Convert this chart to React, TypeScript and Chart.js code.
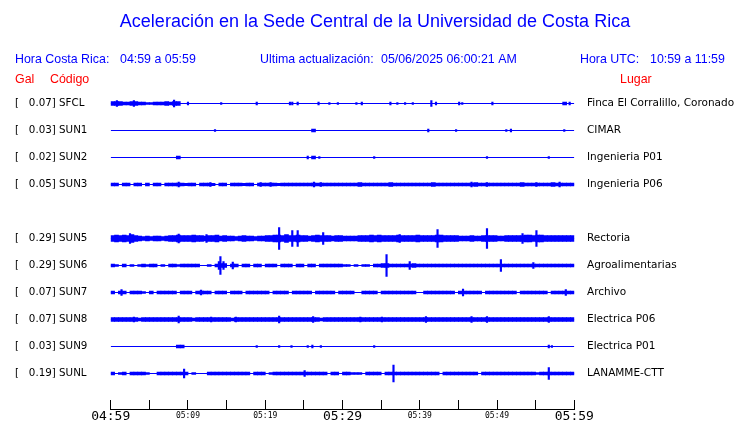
import { useEffect, useRef } from 'react';
import { Chart, registerables } from 'chart.js';

Chart.register(...registerables);

// ---------- data ----------
const TITLE = 'Aceleración en la Sede Central de la Universidad de Costa Rica';
const CODES = ['SFCL', 'SUN1', 'SUN2', 'SUN3', 'SUN5', 'SUN6', 'SUN7', 'SUN8', 'SUN9', 'SUNL'];
const ROWS = [0, 1, 2, 3, 5, 6, 7, 8, 9, 10];
const GAL = ['0.07', '0.03', '0.02', '0.05', '0.29', '0.29', '0.07', '0.07', '0.03', '0.19'];
const PLACES = [
  'Finca El Corralillo, Coronado', 'CIMAR', 'Ingenieria P01', 'Ingenieria P06', 'Rectoria',
  'Agroalimentarias', 'Archivo', 'Electrica P06', 'Electrica P01', 'LANAMME-CTT',
];
const TICK_MINUTES = [0, 5, 10, 15, 20, 25, 30, 35, 40, 45, 50, 55, 60];
const TICK_LABELS = ['04:59', '', '05:09', '', '05:19', '', '05:29', '', '05:39', '', '05:49', '', '05:59'];
const BIN_MINUTES = 0.5;

// envelope half-amplitudes (reference px) per 30 s bin
const ENV_SFCL = [
  2, 2, 2, 1.5, 1.5, 2, 2, 1.5, 1.5, 1, 1, 1.5, 1.5, 1.5, 2, 1.5, 2, 2, 0, 0,
  0, 0, 0, 0, 0, 0, 0, 0, 0, 0, 0, 0, 0, 0, 0, 0, 0, 0, 0, 0,
  0, 0, 0, 0, 0, 0, 0, 0, 0, 0, 0, 0, 0, 0, 0, 0, 0, 0, 0, 0,
  0, 0, 0, 0, 0, 0, 0, 0, 0, 0, 0, 0, 0, 0, 0, 0, 0, 0, 0, 0,
  0, 0, 0, 0, 0, 0, 0, 0, 0, 0, 0, 0, 0, 0, 0, 0, 0, 0, 0, 0,
  0, 0, 0, 0, 0, 0, 0, 0, 0, 0, 0, 0, 0, 0, 0, 0, 0, 1.5, 0, 0,
];
const ENV_SUN1 = [
  0, 0, 0, 0, 0, 0, 0, 0, 0, 0, 0, 0, 0, 0, 0, 0, 0, 0, 0, 0,
  0, 0, 0, 0, 0, 0, 0, 0, 0, 0, 0, 0, 0, 0, 0, 0, 0, 0, 0, 0,
  0, 0, 0, 0, 0, 0, 0, 0, 0, 0, 0, 0, 1.5, 0, 0, 0, 0, 0, 0, 0,
  0, 0, 0, 0, 0, 0, 0, 0, 0, 0, 0, 0, 0, 0, 0, 0, 0, 0, 0, 0,
  0, 0, 0, 0, 0, 0, 0, 0, 0, 0, 0, 0, 0, 0, 0, 0, 0, 0, 0, 0,
  0, 0, 0, 0, 0, 0, 0, 0, 0, 0, 0, 0, 0, 0, 0, 0, 0, 0, 0, 0,
];
const ENV_SUN2 = [
  0, 0, 0, 0, 0, 0, 0, 0, 0, 0, 0, 0, 0, 0, 0, 0, 0, 1.5, 0, 0,
  0, 0, 0, 0, 0, 0, 0, 0, 0, 0, 0, 0, 0, 0, 0, 0, 0, 0, 0, 0,
  0, 0, 0, 0, 0, 0, 0, 0, 0, 0, 0, 0, 1.5, 0, 0, 0, 0, 0, 0, 0,
  0, 0, 0, 0, 0, 0, 0, 0, 0, 0, 0, 0, 0, 0, 0, 0, 0, 0, 0, 0,
  0, 0, 0, 0, 0, 0, 0, 0, 0, 0, 0, 0, 0, 0, 0, 0, 0, 0, 0, 0,
  0, 0, 0, 0, 0, 0, 0, 0, 0, 0, 0, 0, 0, 0, 0, 0, 0, 0, 0, 0,
];
const ENV_SUN3 = [
  1.5, 1.5, 0, 1.5, 1.5, 0, 1.5, 1.5, 0, 1.5, 0, 1.5, 1.5, 0, 1.5, 1.5, 1.5, 1.5, 1.5, 1.2,
  1.5, 1.5, 0, 1.5, 1.5, 1.5, 1.2, 0, 1.5, 1.5, 0, 1.5, 1.5, 1.5, 1.2, 1.5, 1.5, 0, 1.5, 1.5,
  1.5, 1.5, 1.5, 1.2, 1.5, 1.5, 1.5, 1.5, 1.5, 1.5, 1.5, 1.5, 1.5, 1.5, 1.5, 1.5, 1.5, 1.5, 1.5, 1.5,
  1.5, 1.5, 1.5, 1.5, 1.8, 1.5, 1.5, 1.5, 1.5, 1.5, 1.5, 1.5, 1.8, 1.5, 1.5, 1.5, 1.5, 1.5, 1.5, 1.5,
  1.5, 1.5, 1.5, 1.8, 1.5, 1.5, 1.5, 1.5, 1.5, 1.5, 1.5, 1.5, 1.5, 1.5, 1.8, 1.5, 1.5, 1.5, 1.5, 1.5,
  1.5, 1.5, 1.5, 1.5, 1.5, 1.5, 1.8, 1.5, 1.5, 1.5, 1.5, 1.5, 1.5, 1.5, 1.8, 1.5, 1.5, 1.5, 1.5, 1.5,
];
const ENV_SUN5 = [
  3, 3.5, 3, 3.5, 3, 4, 3, 2.5, 2, 2.5, 2, 2.5, 2.5, 2, 2.5, 3, 3, 3.5, 3, 3,
  3, 3.5, 3, 3, 2.5, 3, 3, 3.5, 2.5, 3, 2.5, 2.5, 2, 2.5, 3, 2.5, 2.5, 2, 2.5, 2.5,
  3, 3, 3.5, 3.5, 3, 4, 3, 3, 3.5, 3, 3, 2.5, 3, 3.5, 3, 3, 3, 2.5, 3, 3,
  2.5, 2.5, 2.5, 2.5, 3, 3, 3, 3.5, 3, 3.5, 3, 3, 3, 3, 3.5, 3, 3, 3, 3, 3.5,
  3, 3, 3, 3, 3.5, 3.5, 3, 3, 3, 3, 2.5, 2.5, 2.5, 3, 2.5, 2.5, 3, 3, 3, 3,
  2.5, 2.5, 3, 3, 3, 3, 3, 3.5, 3.5, 3, 3.5, 3.5, 3, 3, 3, 3, 3, 3, 3, 3,
];
const ENV_SUN6 = [
  1.5, 1, 0, 1.5, 0, 1, 0, 1, 1.5, 1, 1.5, 1.5, 0, 1, 0, 1.5, 1.5, 1, 1.5, 1.5,
  1.5, 1.5, 1.5, 0, 0, 1, 0, 1.5, 2, 2, 0, 1.5, 1.5, 0, 1.5, 1.5, 0, 1.5, 1.5, 0,
  1.5, 1.5, 1.5, 0, 1.5, 1.5, 1.5, 0, 1.5, 1.5, 0, 1.5, 1.5, 0, 1.5, 1.5, 1.5, 1.5, 1.5, 1.5,
  1, 1, 0, 1, 0, 1, 1, 0, 1.5, 1.5, 2, 2, 1.5, 1.5, 1.5, 1.5, 1.5, 1.5, 2, 1.5,
  1.5, 1.5, 1.5, 1.5, 1.5, 1.5, 1.5, 1.5, 1.5, 1.5, 1.5, 1.5, 1.5, 1.5, 1.5, 1.5, 1.5, 1.5, 1.5, 1.5,
  1.5, 1.5, 1.5, 1.5, 1.5, 1.5, 1.5, 1.5, 1.5, 1.5, 1.5, 1.5, 1.5, 1.5, 1.5, 1.5, 1.5, 1.5, 1.5, 1.5,
];
const ENV_SUN7 = [
  1.5, 0, 1.5, 1.5, 0, 1.5, 1.5, 1.5, 1, 0, 1.5, 0, 1.5, 1.5, 1.5, 1.5, 1.5, 0, 1.5, 1.5,
  1.5, 0, 1.5, 1.5, 1.5, 1.5, 0, 1.5, 1.5, 1.5, 0, 1.5, 1.5, 1.5, 0, 1.5, 1.5, 1.5, 1.5, 1.5,
  1.5, 0, 1.5, 1.5, 1.5, 1.5, 0, 1.5, 1.5, 1.5, 1.5, 1.5, 0, 1.5, 1.5, 1.5, 1.5, 1.5, 0, 1.5,
  1.5, 1.5, 1.5, 0, 0, 1.5, 1.5, 1.5, 1.5, 0, 1.5, 1.5, 1.5, 1.5, 1.5, 1.5, 1.5, 1.5, 1.5, 0,
  0, 1.5, 1.5, 1.5, 1.5, 1.5, 1.5, 1.5, 1.5, 0, 1.5, 1.5, 1.5, 1.5, 1.5, 1.5, 0, 1.5, 1.5, 1.5,
  1.5, 1.5, 1.5, 1.5, 1.5, 0, 1.5, 1.5, 1.5, 1.5, 1.5, 1.5, 1.5, 0, 1.5, 1.5, 1.5, 1.5, 1.5, 1.5,
];
const ENV_SUN8 = [
  1.8, 2, 1.8, 1.8, 2, 1.8, 1.8, 1.5, 1.8, 1.8, 2, 1.8, 1.8, 1.8, 1.8, 1.8, 1.8, 2, 1.8, 1.8,
  1.8, 1.5, 1.8, 1.8, 1.8, 1.8, 1.8, 1.8, 1.8, 1.8, 1.8, 1.5, 1.8, 1.8, 1.8, 1.8, 1.8, 1.8, 1.8, 1.8,
  1.8, 1.8, 1.8, 2, 1.8, 1.8, 1.8, 1.8, 1.8, 1.8, 1.8, 1.8, 1.8, 1.8, 1.5, 1.8, 1.8, 1.8, 1.8, 1.8,
  1.8, 1.8, 1.8, 1.8, 1.8, 1.8, 1.8, 1.8, 1.8, 1.8, 1.8, 1.8, 1.8, 1.8, 1.8, 1.8, 1.8, 1.8, 1.8, 1.8,
  1.8, 1.8, 1.8, 1.8, 1.8, 1.8, 1.8, 1.8, 1.8, 1.8, 1.8, 1.8, 1.8, 1.8, 1.8, 1.8, 1.8, 1.8, 1.8, 1.8,
  1.8, 1.8, 1.8, 1.8, 1.8, 1.8, 1.8, 1.8, 1.8, 1.8, 1.8, 1.8, 1.8, 1.8, 1.8, 1.8, 1.8, 1.8, 1.8, 1.8,
];
const ENV_SUN9 = [
  0, 0, 0, 0, 0, 0, 0, 0, 0, 0, 0, 0, 0, 0, 0, 0, 0, 1.5, 1.5, 0,
  0, 0, 0, 0, 0, 0, 0, 0, 0, 0, 0, 0, 0, 0, 0, 0, 0, 0, 0, 0,
  0, 0, 0, 0, 0, 0, 0, 0, 0, 0, 0, 0, 0, 0, 0, 0, 0, 0, 0, 0,
  0, 0, 0, 0, 0, 0, 0, 0, 0, 0, 0, 0, 0, 0, 0, 0, 0, 0, 0, 0,
  0, 0, 0, 0, 0, 0, 0, 0, 0, 0, 0, 0, 0, 0, 0, 0, 0, 0, 0, 0,
  0, 0, 0, 0, 0, 0, 0, 0, 0, 0, 0, 0, 0, 0, 0, 0, 0, 0, 0, 0,
];
const ENV_SUNL = [
  1.5, 0, 1, 1.5, 0, 1.5, 1.5, 1.5, 1.5, 1, 0, 0, 1.5, 1.5, 1.5, 1.5, 1.5, 1.5, 1.5, 1.5,
  0, 1, 0, 0, 0, 1.5, 1.5, 1.5, 1.5, 1.5, 1.5, 1.5, 1.5, 1.5, 1.5, 1.5, 0, 1.5, 1.5, 1.5,
  0, 1, 1.5, 1.5, 1.5, 1.5, 1.5, 1.5, 1.5, 1.5, 1.5, 1.5, 1.5, 1.5, 1.5, 1.5, 0, 1.5, 1.5, 0,
  1.5, 1.5, 1, 1, 1, 0, 1.5, 1.5, 1.5, 1.5, 0, 1.5, 1.5, 1.5, 1.5, 1.5, 1.5, 1.5, 1.5, 1.5,
  1.5, 1.5, 1.5, 1.5, 1.5, 0, 1.5, 1.5, 1.5, 1.5, 1.5, 1.5, 1.5, 1.5, 1.5, 0, 1.5, 1.5, 1.5, 1.5,
  1.5, 1.5, 1.5, 1.5, 1.5, 1.5, 1.5, 1.5, 1.5, 1.5, 1, 1.5, 1.5, 1.5, 1.5, 1.5, 1.5, 1.5, 1.5, 1.5,
];
const ENVELOPES = [ENV_SFCL, ENV_SUN1, ENV_SUN2, ENV_SUN3, ENV_SUN5, ENV_SUN6, ENV_SUN7, ENV_SUN8, ENV_SUN9, ENV_SUNL];

// isolated spikes: [minute, half-amplitude]
const SPK_SFCL = [[0.8, 3], [3.0, 3], [8.2, 3.5], [10, 1.5], [14.3, 1], [18.9, 1.5], [23.2, 1.5], [23.5, 1.5], [24.2, 1.5], [26.9, 1.5], [28.3, 1], [29.4, 1], [31.8, 1], [32.5, 1.5], [36.2, 1.5], [37.1, 1], [38.1, 1], [39.1, 1], [41.5, 3], [42.1, 1.5], [45.1, 1.5], [45.5, 1], [49.4, 1.5], [59.4, 1.5]];
const SPK_SUN1 = [[13.5, 1], [41.1, 1.5], [44.7, 1], [51.2, 1], [51.8, 1.5], [58.7, 1]];
const SPK_SUN2 = [[25.5, 1.5], [27, 1], [34.1, 1], [48.7, 1], [56.7, 1]];
const SPK_SUN3 = [[8.8, 2.5], [12.9, 2], [19.4, 2], [20.7, 2], [26.3, 2.5], [27.2, 2], [46.7, 2.5], [48.7, 2], [55.1, 2], [58.1, 2.5]];
const SPK_SUN5 = [[2.5, 5], [8.8, 4.5], [12.4, 4], [21.8, 11], [23.5, 8], [24.2, 8], [27.5, 6], [37.4, 4], [42.3, 9], [48.7, 10], [53.3, 5], [55.1, 8]];
const SPK_SUN6 = [[14.0, 4], [14.2, 9], [14.6, 4], [15.8, 3.5], [35.7, 11], [38.7, 4], [50.5, 6], [54.7, 3]];
const SPK_SUN7 = [[1.4, 3], [11.7, 2.5], [45.6, 3.5], [58.9, 3]];
const SPK_SUN8 = [[3, 2.5], [8.8, 3.5], [13, 2.5], [16.2, 2.5], [21.8, 3.5], [26.2, 3], [32.3, 2.5], [35.1, 2.5], [40.8, 3], [46.7, 3], [48.7, 3], [56.7, 3]];
const SPK_SUN9 = [[18.9, 1], [21.8, 1], [23.4, 1], [25.5, 1], [26.1, 1.5], [27.2, 1], [34.1, 1], [56.7, 1.5], [57.1, 1]];
const SPK_SUNL = [[9.5, 4.5], [25.1, 3], [36.6, 8.5], [56.7, 6]];
const SPIKES = [SPK_SFCL, SPK_SUN1, SPK_SUN2, SPK_SUN3, SPK_SUN5, SPK_SUN6, SPK_SUN7, SPK_SUN8, SPK_SUN9, SPK_SUNL];

// ---------- layout ----------
const W = 740;
const H = 423;
const PX_PER_ROW = 27;
const AREA_TOP = 89;
const AREA_BOTTOM = 409;
const AREA_LEFT = 110.7;
const AREA_RIGHT = 574.3;
const FIRST_ROW_PX = 103.5;
const Y_MIN = -(FIRST_ROW_PX - AREA_TOP) / PX_PER_ROW;
const Y_MAX = Y_MIN + (AREA_BOTTOM - AREA_TOP) / PX_PER_ROW;
const BLUE = '#0000ff';

const headerPlugin = {
  id: 'header',
  afterDraw(chart: any) {
    const ctx = chart.ctx;
    ctx.save();
    ctx.textBaseline = 'middle';
    ctx.fillStyle = BLUE;
    ctx.font = '18px "Liberation Sans", Arial, sans-serif';
    ctx.textAlign = 'center';
    ctx.fillText(TITLE, 375, 22);
    ctx.textAlign = 'left';
    ctx.font = '12.4px "Liberation Sans", Arial, sans-serif';
    ctx.fillText('Hora Costa Rica:', 15, 60);
    ctx.fillText('04:59 a 05:59', 120, 60);
    ctx.fillText('Ultima actualización:', 260, 60);
    ctx.fillText('05/06/2025 06:00:21 AM', 381, 60);
    ctx.fillText('Hora UTC:', 580, 60);
    ctx.fillText('10:59 a 11:59', 650, 60);
    ctx.fillStyle = '#ff0000';
    ctx.fillText('Gal', 15, 80);
    ctx.fillText('Código', 50, 80);
    ctx.fillText('Lugar', 620, 80);
    ctx.restore();
  },
};

export default function App() {
  const ref = useRef<HTMLCanvasElement>(null);

  useEffect(() => {
    if (!ref.current) return;
    const datasets: any[] = [];
    CODES.forEach((code, s) => {
      const row = ROWS[s];
      datasets.push({
        type: 'line',
        label: code + ' base',
        data: [{ x: 0, y: row }, { x: 60, y: row }],
        borderColor: BLUE,
        borderWidth: 1,
        pointRadius: 0,
      });
      const env: any[] = [];
      ENVELOPES[s].forEach((a, k) => {
        if (a > 0) env.push({ x: (k + 0.5) * BIN_MINUTES, y: [row - a / PX_PER_ROW, row + a / PX_PER_ROW] });
      });
      datasets.push({
        type: 'bar',
        label: code + ' env',
        data: env,
        backgroundColor: BLUE,
        borderWidth: 0,
        grouped: false,
        barThickness: 4,
      });
      datasets.push({
        type: 'bar',
        label: code + ' spikes',
        data: SPIKES[s].map(([t, a]) => ({ x: t, y: [row - a / PX_PER_ROW, row + a / PX_PER_ROW] })),
        backgroundColor: BLUE,
        borderWidth: 0,
        grouped: false,
        barThickness: 1.5,
      });
    });

    const rowTicks = (scale: any) => {
      scale.ticks = ROWS.map((v) => ({ value: v }));
    };
    const labelFor = (value: number, right: boolean) => {
      const i = ROWS.indexOf(value);
      if (i < 0) return '';
      return right ? PLACES[i] : '[   ' + GAL[i] + '] ' + CODES[i];
    };

    const chart = new Chart(ref.current, {
      type: 'bar',
      data: { datasets },
      plugins: [headerPlugin],
      options: {
        animation: false,
        responsive: false,
        events: [],
        layout: { padding: { top: AREA_TOP, left: 15, right: 0, bottom: 0 } },
        plugins: { legend: { display: false }, tooltip: { enabled: false }, title: { display: false } },
        scales: {
          x: {
            type: 'linear',
            min: 0,
            max: 60,
            offset: false,
            afterBuildTicks: (s: any) => {
              s.ticks = TICK_MINUTES.map((v) => ({ value: v }));
            },
            afterFit: (s: any) => {
              s.height = H - AREA_BOTTOM;
              s.paddingLeft = 0;
              s.paddingRight = 0;
            },
            grid: { offset: false, drawOnChartArea: false, drawTicks: true, tickLength: -9, color: '#000', lineWidth: 1 },
            border: { display: true, color: '#000', width: 1 },
            ticks: {
              autoSkip: false,
              maxRotation: 0,
              minRotation: 0,
              padding: 9,
              color: '#000',
              font: (c: any) =>
                c.index % 6 === 0
                  ? { family: '"DejaVu Sans Mono", monospace', size: 13, lineHeight: 1.2 }
                  : { family: '"DejaVu Sans Mono", monospace', size: 8, lineHeight: 1.8 },
              callback: (_v: any, i: number) => TICK_LABELS[i],
            },
          },
          y: {
            type: 'linear',
            position: 'left',
            reverse: true,
            min: Y_MIN,
            max: Y_MAX,
            afterBuildTicks: rowTicks,
            afterFit: (s: any) => {
              s.width = AREA_LEFT - 15;
              s.paddingTop = 0;
              s.paddingBottom = 0;
            },
            grid: { display: false, drawTicks: false },
            border: { display: false },
            ticks: {
              crossAlign: 'far',
              color: '#000',
              font: { family: '"DejaVu Sans", sans-serif', size: 10.3 },
              callback: (v: any) => labelFor(v, false),
            },
          },
          y2: {
            type: 'linear',
            position: 'right',
            reverse: true,
            min: Y_MIN,
            max: Y_MAX,
            afterBuildTicks: rowTicks,
            afterFit: (s: any) => {
              s.width = W - AREA_RIGHT;
              s.paddingTop = 0;
              s.paddingBottom = 0;
            },
            grid: { display: false, drawTicks: false },
            border: { display: false },
            ticks: {
              crossAlign: 'near',
              padding: 12.7,
              color: '#000',
              font: { family: '"DejaVu Sans", sans-serif', size: 10.5 },
              callback: (v: any) => labelFor(v, true),
            },
          },
        },
      } as any,
    });
    return () => chart.destroy();
  }, []);

  return (
    <div style={{ position: 'fixed', left: 0, top: 0, width: W, height: H, background: '#fff' }}>
      <canvas ref={ref} width={W} height={H} style={{ display: 'block', width: W, height: H }} />
    </div>
  );
}
